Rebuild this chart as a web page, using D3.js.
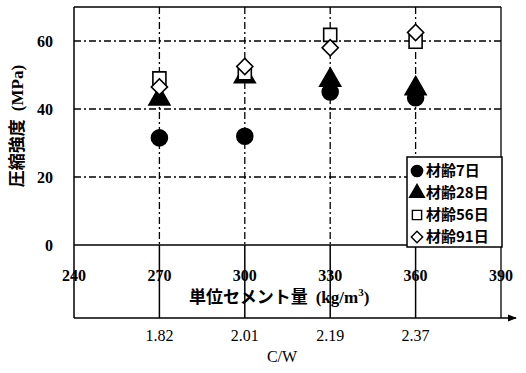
<!DOCTYPE html>
<html>
<head>
<meta charset="utf-8">
<script src="https://cdn.jsdelivr.net/npm/d3@7"></script>
<style>
body { margin: 0; background: #fff; }
</style>
</head>
<body>
<div id="chart"></div>
<script>
var cement = [270, 300, 330, 360];
var cwLabels = ["1.82", "2.01", "2.19", "2.37"];
var xTicks = [240, 270, 300, 330, 360, 390];
var yTicks = [0, 20, 40, 60];
var age7 = [31.5, 32, 45, 43.3];
var age28 = [43, 49.5, 48.5, 46];
var age56 = [49, 50.5, 61.8, 59.8];
var age91 = [46.5, 52.5, 58, 62.5];
var seriesNames = ["材齢7日", "材齢28日", "材齢56日", "材齢91日"];

var svg = d3.select("#chart").append("svg")
    .attr("width", 526).attr("height", 373);

var x = d3.scaleLinear().domain([240, 390]).range([74, 501]);
var y = d3.scaleLinear().domain([0, 70]).range([245, 7]);
var bottomY = 318;
var serif = "'Liberation Serif', 'DejaVu Serif', serif";
var jp = "'Noto Sans CJK JP', sans-serif";

// grid (dash-dot)
svg.append("g").selectAll("line").data([20, 40, 60]).enter().append("line")
    .attr("x1", x(240)).attr("x2", x(390))
    .attr("y1", d => y(d)).attr("y2", d => y(d))
    .attr("stroke", "#000").attr("stroke-width", 1.3)
    .attr("stroke-dasharray", "7,3,2,3");
svg.append("g").selectAll("line").data(cement).enter().append("line")
    .attr("x1", d => x(d)).attr("x2", d => x(d))
    .attr("y1", y(70)).attr("y2", y(0))
    .attr("stroke", "#000").attr("stroke-width", 1.3)
    .attr("stroke-dasharray", "7,3,2,3");

// frame
svg.append("line").attr("x1", x(240)).attr("x2", x(390)).attr("y1", y(70)).attr("y2", y(70))
    .attr("stroke", "#000").attr("stroke-width", 1.5);
svg.append("line").attr("x1", x(390)).attr("x2", x(390)).attr("y1", y(70)).attr("y2", bottomY)
    .attr("stroke", "#000").attr("stroke-width", 1.3);
svg.append("line").attr("x1", x(240)).attr("x2", x(240)).attr("y1", y(70)).attr("y2", bottomY)
    .attr("stroke", "#000").attr("stroke-width", 1.5);
svg.append("line").attr("x1", x(240)).attr("x2", x(390)).attr("y1", y(0)).attr("y2", y(0))
    .attr("stroke", "#000").attr("stroke-width", 1.5);
svg.append("g").selectAll("line").data(cement).enter().append("line")
    .attr("x1", d => x(d)).attr("x2", d => x(d))
    .attr("y1", y(0)).attr("y2", bottomY)
    .attr("stroke", "#000").attr("stroke-width", 1.5);

// bottom C/W axis with arrow
svg.append("defs").append("marker")
    .attr("id", "arrow").attr("viewBox", "0 0 10 10")
    .attr("refX", 9).attr("refY", 5)
    .attr("markerWidth", 6).attr("markerHeight", 6)
    .attr("orient", "auto")
    .append("path").attr("d", "M0,1L10,5L0,9Z").attr("fill", "#000");
svg.append("line").attr("x1", x(240)).attr("x2", 516).attr("y1", bottomY).attr("y2", bottomY)
    .attr("stroke", "#000").attr("stroke-width", 1.5)
    .attr("marker-end", "url(#arrow)");

// y tick labels
svg.append("g").selectAll("text").data(yTicks).enter().append("text")
    .attr("x", 53).attr("y", d => y(d) + 6)
    .attr("text-anchor", "end")
    .style("font-family", serif).style("font-weight", "bold").style("font-size", "16px")
    .text(d => d);

// x tick labels
svg.append("g").selectAll("text").data(xTicks).enter().append("text")
    .attr("x", d => x(d)).attr("y", 281)
    .attr("text-anchor", "middle")
    .style("font-family", serif).style("font-weight", "bold").style("font-size", "16px")
    .text(d => d);

// C/W labels
svg.append("g").selectAll("text").data(cement).enter().append("text")
    .attr("x", d => x(d)).attr("y", 341)
    .attr("text-anchor", "middle")
    .style("font-family", serif).style("font-size", "16px")
    .text((d, i) => cwLabels[i]);

var xl = svg.append("text").attr("x", 189).attr("y", 303)
    .style("font-size", "17px");
xl.append("tspan").style("font-family", jp).style("font-weight", "bold").text("単位セメント量");
xl.append("tspan").style("font-family", serif).style("font-weight", "bold").attr("dx", 8).text("(kg/m");
xl.append("tspan").style("font-family", serif).style("font-weight", "bold").style("font-size", "11px").attr("dy", -7).text("3");
xl.append("tspan").style("font-family", serif).style("font-weight", "bold").attr("dy", 7).text(")");

svg.append("text").attr("x", 282).attr("y", 362).attr("text-anchor", "middle")
    .style("font-family", serif).style("font-size", "16px").text("C/W");

var yl = svg.append("text").attr("transform", "translate(23,126) rotate(-90)")
    .attr("text-anchor", "middle").style("font-size", "17px");
yl.append("tspan").style("font-family", jp).style("font-weight", "bold").text("圧縮強度");
yl.append("tspan").style("font-family", serif).style("font-weight", "bold").attr("dx", 8).text("(MPa)");

// markers
var sym = [d3.symbolCircle, d3.symbolTriangle, d3.symbolSquare, d3.symbolSquare];
var rot = [0, 0, 0, 45];
var sizes = [200, 190, 170, 130];
var fills = ["#000", "#000", "#fff", "#fff"];
var allSeries = [age7, age28, age56, age91];
[0, 1, 2, 3].forEach(function (s) {
    svg.append("g").selectAll("path").data(allSeries[s]).enter().append("path")
        .attr("transform", (d, i) => "translate(" + x(cement[i]) + "," + y(d) + ") rotate(" + rot[s] + ")")
        .attr("d", d3.symbol().type(sym[s]).size(sizes[s]))
        .attr("fill", fills[s]).attr("stroke", "#000").attr("stroke-width", 1.6);
});

// legend
var lg = svg.append("g");
lg.append("rect").attr("x", 407).attr("y", 157).attr("width", 95).attr("height", 90)
    .attr("fill", "#fff").attr("stroke", "#000").attr("stroke-width", 1.5);
seriesNames.forEach(function (n, i) {
    var cy = 171 + i * 22;
    lg.append("path").attr("transform", "translate(417," + cy + ") rotate(" + rot[i] + ")")
        .attr("d", d3.symbol().type(sym[i]).size(sizes[i] * 0.5))
        .attr("fill", fills[i]).attr("stroke", "#000").attr("stroke-width", 1.4);
    lg.append("text").attr("x", 426).attr("y", cy + 5)
        .style("font-family", jp).style("font-size", "15px").style("font-weight", "bold")
        .text(n);
});
</script>
</body>
</html>
